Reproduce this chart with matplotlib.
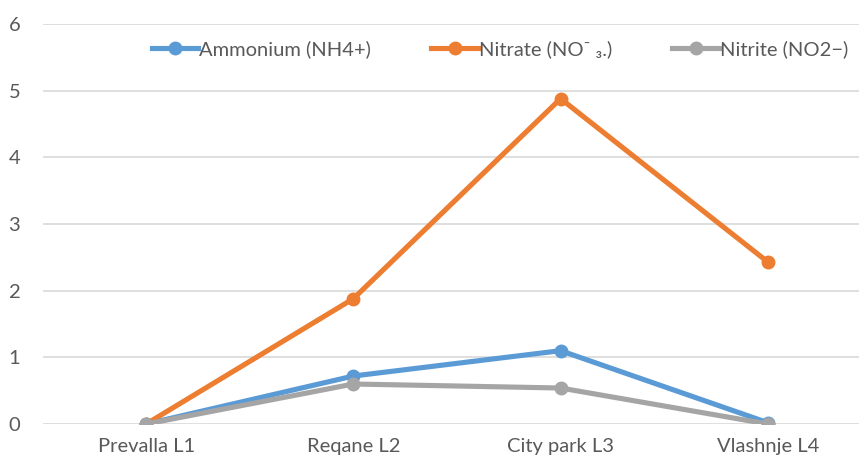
import matplotlib.pyplot as plt

plt.rcParams['font.family'] = ['Lato', 'DejaVu Sans']

sites = ['Prevalla L1', 'Reqane L2', 'City park L3', 'Vlashnje L4']
ammonium = [0.0, 0.72, 1.1, 0.02]
nitrate = [0.0, 1.88, 4.88, 2.43]
nitrite = [0.0, 0.6, 0.54, 0.0]

fig = plt.figure(figsize=(8.59, 4.63), dpi=100)
# the original is cropped on the right, so the axes run past the figure edge
ax = fig.add_axes([0.0495, 0.0842, 0.965, 0.864])

x = range(len(sites))
ax.plot(x, ammonium, color='#5B9BD5', lw=3.7, marker='o', ms=9, label='Ammonium (NH4+)', zorder=3)
ax.plot(x, nitrate, color='#ED7D31', lw=3.7, marker='o', ms=9, label='Nitrate (NO\u207b \u2083.)', zorder=3)
ax.plot(x, nitrite, color='#A5A5A5', lw=3.7, marker='o', ms=9, label='Nitrite (NO2\u2212)', zorder=3)

ax.set_xlim(-0.5, 3.5)
ax.set_ylim(0, 6)
ax.set_yticks(range(7))
ax.set_xticks(list(x))
ax.set_xticklabels(sites)
ax.grid(axis='y', color='#D9D9D9', lw=1.2)
ax.set_axisbelow(True)
for s in ax.spines.values():
    s.set_visible(False)
ax.tick_params(length=0, labelsize=14.5, colors='#595959')
ax.tick_params(axis='y', pad=16)
ax.tick_params(axis='x', pad=10)

ax.legend(loc='center', bbox_to_anchor=(0.582, 0.894), ncol=3, frameon=False,
          fontsize=14.5, labelcolor='#595959', handlelength=2.3, handletextpad=0.05,
          columnspacing=3.0, bbox_transform=fig.transFigure)

fig.savefig('out.png', dpi=100)
